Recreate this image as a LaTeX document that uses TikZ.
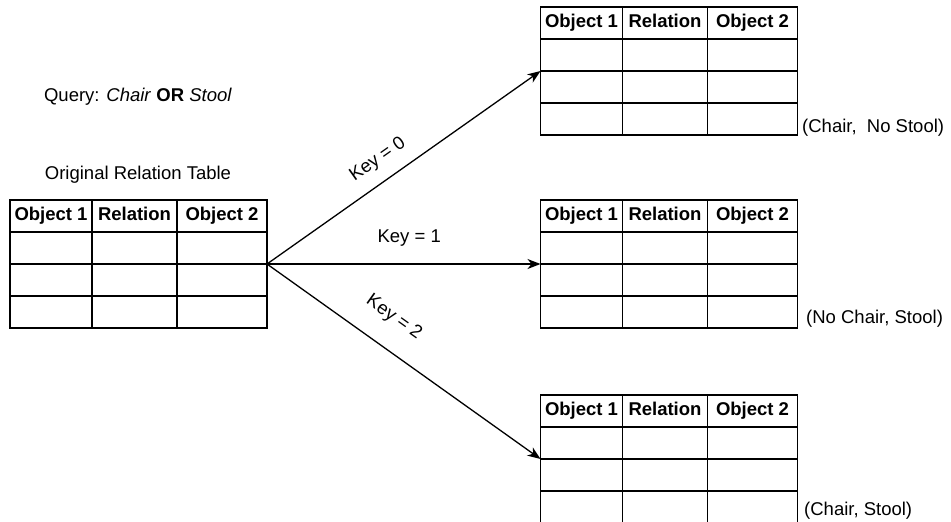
\documentclass[tikz,border=0pt]{standalone}
\usepackage{fontspec}
\setmainfont{Liberation Sans}
\usetikzlibrary{arrows.meta}

% A relation table: header row plus three empty rows, three columns.
\newcommand\reltable[2]{%
  \node[tablebox, anchor=north west] (#1) at (#2) {};
  \foreach \dy in {32,64,96}
    \draw[gridline] ([yshift=-\dy pt]#1.north west) -- ([yshift=-\dy pt]#1.north east);
  \foreach \dx in {82,167}
    \draw[gridline] ([xshift=\dx pt]#1.north west) -- ([xshift=\dx pt]#1.south west);
  \node[headtext] (#1-o1) at ([xshift=41pt,yshift=-16pt]#1.north west) {Object 1};
  \node[headtext] (#1-rel) at ([xshift=124.5pt,yshift=-16pt]#1.north west) {Relation};
  \node[headtext] (#1-o2) at ([xshift=212pt,yshift=-16pt]#1.north west) {Object 2};
}

\begin{document}
\begin{tikzpicture}[x=1pt, y=-1pt,
  every node/.style={font=\fontsize{18.5}{22}\selectfont, inner sep=0pt},
  tablebox/.style={draw, line width=1.4pt, minimum width=257pt, minimum height=128pt, outer sep=0pt},
  gridline/.style={line width=1.4pt},
  headtext/.style={font=\fontsize{18.5}{22}\selectfont\bfseries, text height=13.5pt, text depth=4pt},
  keyarrow/.style={line width=1.3pt, -{Stealth[length=13pt, width=10pt, inset=4pt]}},
  keylabel/.style={sloped},
  tag/.style={anchor=west}
]
\useasboundingbox (0,0) rectangle (951,522);

\node (query) at (138,97) {Query: \textit{Chair} \textbf{OR} \textit{Stool}};
\node (origtitle) at (138,175) {Original Relation Table};

\reltable{orig}{10,200}
\reltable{t0}{540.5,7}
\reltable{t1}{540.5,200}
\reltable{t2}{540.5,395}

\draw[keyarrow] (orig.east) -- node[keylabel, pos=0.45, yshift=21pt] {Key = 0} (t0.west);
\draw[keyarrow] (orig.east) -- node[keylabel, pos=0.52, yshift=26pt] {Key = 1} (t1.west);
\draw[keyarrow] (orig.east) -- node[keylabel, pos=0.40, yshift=30pt] {Key = 2} (t2.west);

\node[tag] (tag0) at (802,128) {(Chair,\ \ No Stool)};
\node[tag] (tag1) at (806,319) {(No Chair, Stool)};
\node[tag] (tag2) at (804,511) {(Chair, Stool)};
\end{tikzpicture}
\end{document}
